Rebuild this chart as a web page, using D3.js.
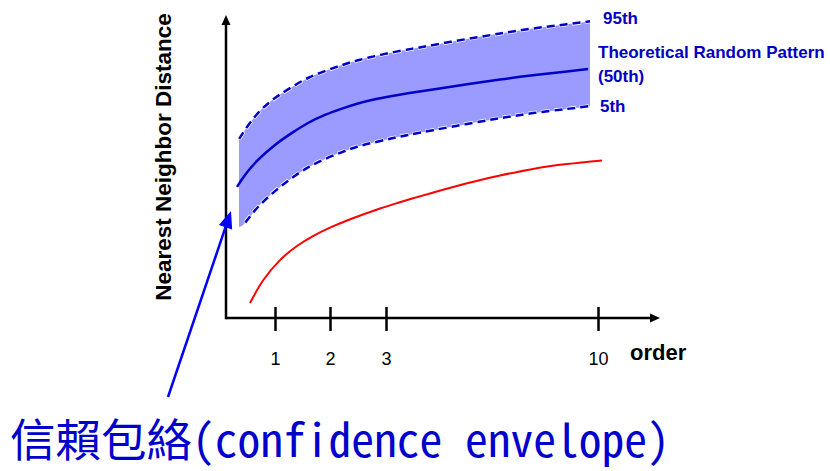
<!DOCTYPE html>
<html>
<head>
<meta charset="utf-8">
<script src="https://cdn.jsdelivr.net/npm/d3@7"></script>
<style>
  html, body { margin: 0; padding: 0; background: #fff; }
  svg { display: block; }
</style>
</head>
<body>
<svg id="chart" width="830" height="471"></svg>
<script>
// Orders (k-th nearest neighbour) shown on the x axis
const tickOrders = [1, 2, 3, 10];
const tickLabels = ["1", "2", "3", "10"];

// Confidence envelope: 95th percentile (upper dashed line) and lower edge of the fill
const bandOrders = [0.265, 0.388, 0.653, 1, 1.309, 1.6, 1.909, 2.214, 2.5, 2.804, 3.198, 3.726, 4.288, 5.675, 6.764, 7.854, 8.976, 9.736];
const bandHigh   = [59.6, 62.7, 68.3, 73.3, 77, 80, 82.3, 84.3, 85.9, 87.3, 88.5, 89.5, 90.5, 93, 94.8, 96.5, 97.9, 98.9];
const bandLow    = [30.3, 31.7, 37, 42.3, 46.7, 50.2, 53, 55.3, 57.2, 58.6, 59.9, 61, 62.1, 64.7, 66.6, 68.3, 69.7, 70.6];

// 5th percentile dashed line
const p5Orders = [0.388, 0.653, 1, 1.309, 1.6, 1.909, 2.214, 2.5, 2.804, 3.198, 3.726, 4.552, 5.675, 6.764, 7.854, 8.976, 9.802];
const p5Values = [31.7, 37, 42.3, 46.7, 50.2, 53, 55.3, 57.2, 58.6, 59.9, 61, 62.6, 64.7, 66.6, 68.3, 69.7, 70.7];

// Theoretical random pattern (50th percentile)
const p50Orders = [0.224, 0.388, 0.653, 1, 1.309, 1.6, 1.909, 2.214, 2.5, 2.804, 3.198, 3.726, 4.552, 5.675, 6.764, 7.854, 8.976, 9.67];
const p50Values = [43.7, 47.7, 52.7, 57.7, 61.7, 65, 67.7, 69.8, 71.5, 72.9, 74, 74.9, 76.2, 77.9, 79.5, 80.9, 82.2, 83];

// Observed nearest neighbour distances
const obsOrders = [0.49, 0.755, 1.091, 1.4, 1.691, 2, 2.304, 2.589, 2.893, 3.363, 3.892, 4.453, 5.675, 6.764, 7.854, 8.976, 10.132];
const obsValues = [5, 12.5, 19.3, 24, 27.3, 30.1, 32.5, 34.5, 36.5, 38.3, 39.9, 41.5, 44.9, 47.5, 49.7, 51.3, 52.5];

const svg = d3.select("#chart");

// Piecewise x scale: the order axis is compressed between 3 and 10
const x = d3.scaleLinear().domain([0, 1, 2, 3, 10]).range([226, 275, 330, 386, 598]);
const y = d3.scaleLinear().domain([0, 100]).range([318, 18]);

const navy = "#0000c8";
const labelBlue = "#0000c0";
const curve = d3.curveNatural;

// Envelope fill
const area = d3.area()
  .x((d, i) => x(bandOrders[i]))
  .y0((d, i) => y(bandLow[i]))
  .y1((d, i) => y(bandHigh[i]))
  .curve(curve);
svg.append("path")
  .datum(bandOrders)
  .attr("d", area)
  .attr("fill", "#9a9aff");

const line = d3.line()
  .x(d => x(d[0]))
  .y(d => y(d[1]))
  .curve(curve);

const zip = (a, b) => a.map((v, i) => [v, b[i]]);

// Dashed percentile lines with a thin white halo
[[bandOrders, bandHigh], [p5Orders, p5Values]].forEach(([o, v]) => {
  svg.append("path").datum(zip(o, v)).attr("d", line)
    .attr("fill", "none").attr("stroke", "#fff").attr("stroke-width", 4)
    .attr("stroke-dasharray", "9 4");
  svg.append("path").datum(zip(o, v)).attr("d", line)
    .attr("fill", "none").attr("stroke", navy).attr("stroke-width", 2.5)
    .attr("stroke-dasharray", "8 5").attr("stroke-dashoffset", -0.5);
});

// Median line
svg.append("path").datum(zip(p50Orders, p50Values)).attr("d", line)
  .attr("fill", "none").attr("stroke", navy).attr("stroke-width", 2.5);

// Observed line
svg.append("path").datum(zip(obsOrders, obsValues)).attr("d", line)
  .attr("fill", "none").attr("stroke", "#ff0000").attr("stroke-width", 2);

// Axes
const x0 = x(0), yBase = y(0);
const axisG = svg.append("g").attr("transform", `translate(0,${yBase})`);
const xAxis = d3.axisBottom(x).tickValues(tickOrders)
  .tickFormat((d, i) => tickLabels[i]).tickSizeOuter(0).tickSizeInner(13).tickPadding(21);
axisG.call(xAxis);
axisG.select(".domain").remove();
axisG.selectAll(".tick line").attr("y1", -11).attr("y2", 13)
  .attr("stroke", "#000").attr("stroke-width", 2.5);
axisG.selectAll(".tick text")
  .attr("font-family", "'Liberation Sans', Arial, sans-serif")
  .attr("font-size", 18).attr("fill", "#000");

svg.append("line").attr("x1", x0).attr("y1", yBase).attr("x2", 652).attr("y2", yBase)
  .attr("stroke", "#000").attr("stroke-width", 2.5);
svg.append("path").attr("d", `M660,${yBase} L650,${yBase - 4.5} L650,${yBase + 4.5} Z`).attr("fill", "#000");
svg.append("line").attr("x1", x0).attr("y1", yBase + 1.25).attr("x2", x0).attr("y2", 24)
  .attr("stroke", "#000").attr("stroke-width", 2.5);
svg.append("path").attr("d", `M${x0},15 L${x0 - 4.5},25 L${x0 + 4.5},25 Z`).attr("fill", "#000");

// Axis titles
svg.append("text")
  .attr("transform", `translate(171,157) rotate(-90)`)
  .attr("text-anchor", "middle")
  .attr("font-family", "'Liberation Sans', Arial, sans-serif")
  .attr("font-weight", "bold").attr("font-size", 22.5).attr("fill", "#000")
  .text("Nearest Neighbor Distance");
svg.append("text")
  .attr("x", 630).attr("y", 360)
  .attr("font-family", "'Liberation Sans', Arial, sans-serif")
  .attr("font-weight", "bold").attr("font-size", 22).attr("fill", "#000")
  .text("order");

// Percentile labels
const lab = (tx, ty, t) => svg.append("text").attr("x", tx).attr("y", ty)
  .attr("font-family", "'Liberation Sans', Arial, sans-serif")
  .attr("font-weight", "bold").attr("font-size", 17).attr("fill", labelBlue).text(t);
lab(603, 24, "95th");
lab(598, 58, "Theoretical Random Pattern");
lab(598, 82, "(50th)");
lab(600, 112, "5th");

// Annotation arrow pointing at the envelope
const tip = [x(bandOrders[0]) - 8, y(bandLow[0]) - 16];
const tail = [168, 397];
const dx = tip[0] - tail[0], dy = tip[1] - tail[1];
const len = Math.hypot(dx, dy), ux = dx / len, uy = dy / len;
const headLen = 17, headHalf = 7;
const base = [tip[0] - ux * headLen, tip[1] - uy * headLen];
svg.append("line").attr("x1", tail[0]).attr("y1", tail[1]).attr("x2", base[0]).attr("y2", base[1])
  .attr("stroke", "#0000ff").attr("stroke-width", 2.5);
svg.append("path")
  .attr("d", `M${tip[0]},${tip[1]} L${base[0] - uy * headHalf},${base[1] + ux * headHalf} L${base[0] + uy * headHalf},${base[1] - ux * headHalf} Z`)
  .attr("fill", "#0000ff");

svg.append("text")
  .attr("x", 10).attr("y", 457)
  .attr("font-family", "'Noto Sans Mono CJK TC', 'Noto Sans CJK TC', monospace")
  .attr("font-size", 45.5).attr("fill", "#0000cc")
  .text("信賴包絡(confidence envelope)");
</script>
</body>
</html>
